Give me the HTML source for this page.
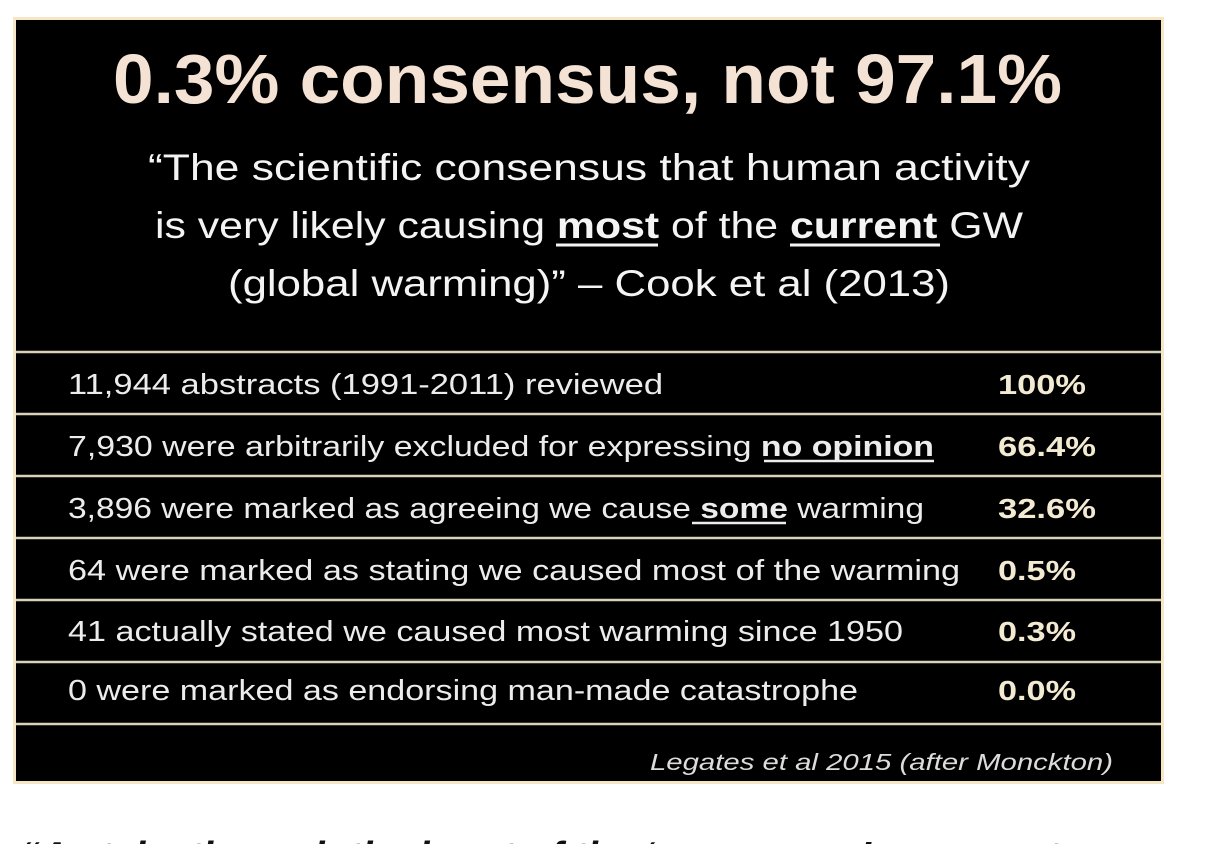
<!DOCTYPE html>
<html><head><meta charset="utf-8"><style>
html,body{margin:0;padding:0;background:#fff;width:1228px;height:844px;overflow:hidden}
svg{display:block}
text{font-family:"Liberation Sans",sans-serif}
</style></head><body>
<svg width="1228" height="844" viewBox="0 0 1228 844">
<rect x="13" y="17" width="1151" height="767" fill="#f6e7c4"/>
<rect x="16" y="20" width="1145" height="761" fill="#000"/>
<g stroke="#d8d2b8" stroke-width="2.5">
<line x1="16" y1="352" x2="1161" y2="352"/>
<line x1="16" y1="414" x2="1161" y2="414"/>
<line x1="16" y1="476" x2="1161" y2="476"/>
<line x1="16" y1="538" x2="1161" y2="538"/>
<line x1="16" y1="600" x2="1161" y2="600"/>
<line x1="16" y1="662" x2="1161" y2="662"/>
<line x1="16" y1="724" x2="1161" y2="724"/>
</g>
<text x="113" y="103" font-size="70" font-weight="bold" fill="#f4e2d4" textLength="949" lengthAdjust="spacingAndGlyphs">0.3% consensus, not 97.1%</text>
<g fill="#f4f4f4" font-size="37">
<text x="148" y="180" textLength="882" lengthAdjust="spacingAndGlyphs">“The scientific consensus that human activity</text>
<text x="155" y="238" textLength="868" lengthAdjust="spacingAndGlyphs">is very likely causing <tspan font-weight="bold">most</tspan> of the <tspan font-weight="bold">current</tspan> GW</text>
<text x="228" y="296" textLength="722" lengthAdjust="spacingAndGlyphs">(global warming)” – Cook et al (2013)</text>
</g>
<g stroke="#f4f4f4" stroke-width="3">
<line x1="556" y1="245" x2="658" y2="245"/>
<line x1="790" y1="245" x2="940" y2="245"/>
</g>
<g fill="#ececec" font-size="29">
<text x="68" y="394" textLength="595" lengthAdjust="spacingAndGlyphs">11,944 abstracts (1991-2011) reviewed</text>
<text x="68" y="456" textLength="866" lengthAdjust="spacingAndGlyphs">7,930 were arbitrarily excluded for expressing <tspan font-weight="bold">no opinion</tspan></text>
<text x="68" y="518" textLength="856" lengthAdjust="spacingAndGlyphs">3,896 were marked as agreeing we cause <tspan font-weight="bold">some</tspan> warming</text>
<text x="68" y="580" textLength="892" lengthAdjust="spacingAndGlyphs">64 were marked as stating we caused most of the warming</text>
<text x="68" y="641" textLength="835" lengthAdjust="spacingAndGlyphs">41 actually stated we caused most warming since 1950</text>
<text x="68" y="700" textLength="790" lengthAdjust="spacingAndGlyphs">0 were marked as endorsing man-made catastrophe</text>
</g>
<g stroke="#ececec" stroke-width="2.5">
<line x1="764" y1="461" x2="934" y2="461"/>
<line x1="692" y1="523" x2="786" y2="523"/>
</g>
<g fill="#f3ead2" font-size="28" font-weight="bold">
<text x="998" y="394" textLength="88" lengthAdjust="spacingAndGlyphs">100%</text>
<text x="998" y="456" textLength="98" lengthAdjust="spacingAndGlyphs">66.4%</text>
<text x="998" y="518" textLength="98" lengthAdjust="spacingAndGlyphs">32.6%</text>
<text x="998" y="580" textLength="78" lengthAdjust="spacingAndGlyphs">0.5%</text>
<text x="998" y="641" textLength="78" lengthAdjust="spacingAndGlyphs">0.3%</text>
<text x="998" y="700" textLength="78" lengthAdjust="spacingAndGlyphs">0.0%</text>
</g>
<text x="650" y="770" font-size="23" font-style="italic" fill="#dcdcdc" textLength="463" lengthAdjust="spacingAndGlyphs">Legates et al 2015 (after Monckton)</text>
<text x="20" y="872" font-size="44" font-style="italic" font-weight="bold" fill="#111" textLength="1040" lengthAdjust="spacingAndGlyphs">“A stake through the heart of the ‘consensus’ argument</text>
</svg>
</body></html>
